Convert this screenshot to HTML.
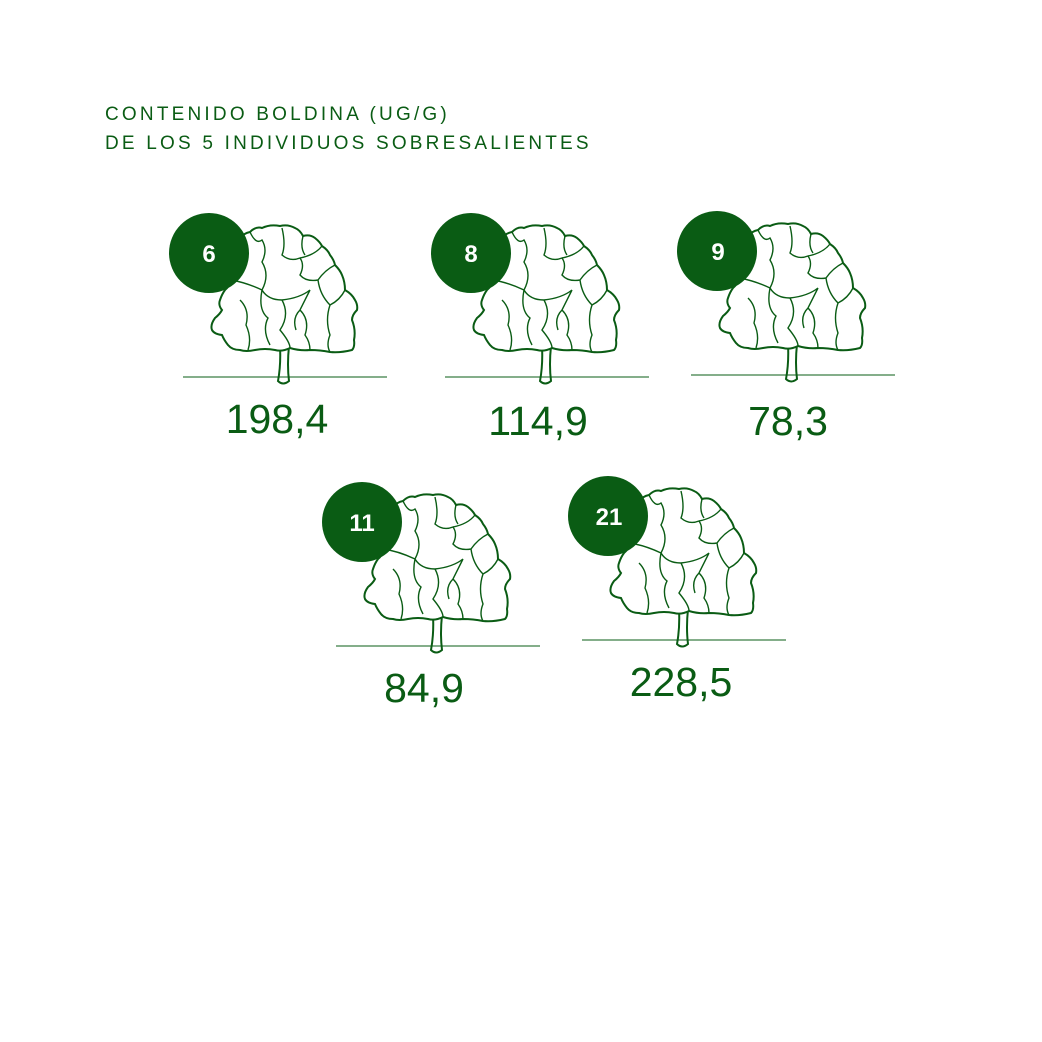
<!DOCTYPE html>
<html><head><meta charset="utf-8"><style>
html,body{margin:0;padding:0;background:#fff}
svg{display:block}
</style></head><body>
<svg width="1042" height="1042" viewBox="0 0 1042 1042" xmlns="http://www.w3.org/2000/svg">
<defs>
<g id="tree">
  <path d="M280,346 Q281,365 278,381 Q283,386 289,381 Q287,365 289,346 Z" fill="#fff" stroke="#0a5c14" stroke-width="2"/>
  <path d="M237,240 Q244,233 250,232 Q256,226 262,228 Q270,224 280,226 Q288,224 295,228 Q300,230 303,236 Q310,234 315,238 Q320,242 322,246 Q328,250 330,255 Q334,260 335,265 Q340,270 342,275 Q345,282 345,290 Q352,294 355,300 Q358,305 357,310 Q352,315 352,320 Q356,330 354,340 Q355,347 352,350 Q340,353 330,352 Q320,350 310,350 Q300,351 290,348 Q282,352 275,350 Q265,348 255,350 Q246,352 240,350 Q232,350 228,345 Q224,340 222,335 Q214,334 212,330 Q210,325 215,318 Q220,314 222,310 Q218,305 220,300 Q222,294 225,290 Q230,286 230,280 Q226,275 228,270 Q230,262 232,255 Q234,246 237,240 Z" fill="#fff" stroke="#0a5c14" stroke-width="2"/>
  <path d="M250,232 Q256,245 262,240 Q268,250 262,262 Q270,275 262,290 Q268,300 282,300 Q300,298 310,290 M282,228 Q286,245 282,255 Q290,262 300,258 Q305,265 300,275 Q306,282 318,280 M303,236 Q300,248 305,255 M322,246 Q315,255 300,258 M335,265 Q325,270 318,280 Q320,295 330,305 Q340,300 345,290 M330,305 Q325,320 330,335 Q326,345 330,352 M240,300 Q250,310 246,325 Q252,338 248,350 M262,290 Q258,310 268,318 Q262,330 270,345 M282,300 Q290,315 280,330 Q290,342 290,348 M300,310 Q310,320 305,335 Q310,342 310,350 M230,280 Q245,282 262,290 M310,290 Q305,300 300,310 Q292,318 296,330" fill="none" stroke="#0a5c14" stroke-width="1.4"/>
  <line x1="183" y1="377" x2="387" y2="377" stroke="#0a5c14" stroke-width="1"/>
  <circle cx="209" cy="253" r="40" fill="#0a5c14"/>
</g>
</defs>
<g font-family="'Liberation Sans', sans-serif" fill="#0a5c14" font-size="19" letter-spacing="3.2">
  <text x="105" y="120">CONTENIDO BOLDINA (UG/G)</text>
  <text x="105" y="149">DE LOS 5 INDIVIDUOS SOBRESALIENTES</text>
</g>
<use href="#tree"/>
<use href="#tree" transform="translate(262,0)"/>
<use href="#tree" transform="translate(508,-2)"/>
<use href="#tree" transform="translate(153,269)"/>
<use href="#tree" transform="translate(399,263)"/>
<g font-family="'Liberation Sans', sans-serif" fill="#fff" font-size="24" font-weight="bold" text-anchor="middle">
  <text x="209" y="262">6</text>
  <text x="471" y="262">8</text>
  <text x="718" y="260">9</text>
  <text x="362" y="531">11</text>
  <text x="609" y="525">21</text>
</g>
<g font-family="'Liberation Sans', sans-serif" fill="#0a5c14" font-size="41" text-anchor="middle">
  <text x="277" y="433">198,4</text>
  <text x="538" y="435">114,9</text>
  <text x="788" y="435">78,3</text>
  <text x="424" y="702">84,9</text>
  <text x="681" y="696">228,5</text>
</g>
</svg>
</body></html>
